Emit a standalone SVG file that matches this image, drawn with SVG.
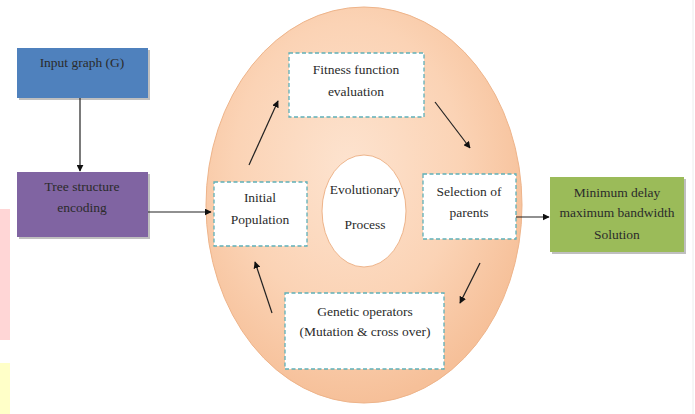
<svg xmlns="http://www.w3.org/2000/svg" width="695" height="414" viewBox="0 0 695 414">
<defs>
<radialGradient id="ring" cx="0.45" cy="0.4" r="0.6">
<stop offset="0" stop-color="#fde3cf"/>
<stop offset="0.6" stop-color="#fbd3b5"/>
<stop offset="1" stop-color="#f6c099"/>
</radialGradient>
<marker id="ah" viewBox="0 0 10 10" refX="9" refY="5" markerWidth="7" markerHeight="7" orient="auto" markerUnits="userSpaceOnUse">
<path d="M0,0 L10,5 L0,10 z" fill="#111"/>
</marker>
</defs>
<style>
text{font-size:13.5px;fill:#2b2b2b;text-anchor:middle}
.shadow{fill:#bfbfbf}
.dash{fill:#fff;stroke:#5fb0b8;stroke-width:1.3;stroke-dasharray:4 2.5}
.conn{stroke:#222;stroke-width:1.2;fill:none;marker-end:url(#ah)}
</style>
<rect width="695" height="414" fill="#fff"/>
<rect x="0" y="209" width="10" height="131" fill="#ffd6d6"/>
<rect x="0" y="363" width="10" height="51" fill="#ffffc8"/>
<line x1="693" y1="0" x2="693" y2="414" stroke="#ececec" stroke-width="1"/>

<g id="evolution-ring">
<ellipse cx="364" cy="205" rx="158" ry="198" fill="url(#ring)" stroke="#eeb48a" stroke-width="1"/>
</g>

<g font-family="Liberation Serif, DejaVu Serif, serif">
<g id="input-graph">
<rect class="shadow" x="19" y="50" width="131" height="50"/>
<rect x="17" y="48" width="131" height="50" fill="#4f81bd"/>
<text x="82" y="67">Input graph (G)</text>
</g>

<g id="tree-encoding">
<rect class="shadow" x="19" y="174" width="131" height="65"/>
<rect x="17" y="172" width="131" height="65" fill="#8064a2"/>
<text x="82" y="191">Tree structure</text>
<text x="82" y="212">encoding</text>
</g>

<g id="evolutionary-process">
<ellipse cx="364" cy="211" rx="42" ry="56" fill="#fff" stroke="#eeb48a" stroke-width="1"/>
<text x="365" y="194">Evolutionary</text>
<text x="365" y="229">Process</text>
</g>

<g id="fitness">
<rect class="dash" x="289" y="53" width="135" height="64"/>
<text x="356" y="74">Fitness function</text>
<text x="356" y="96">evaluation</text>
</g>

<g id="initial-population">
<rect class="dash" x="214" y="182" width="93" height="64"/>
<text x="260" y="202">Initial</text>
<text x="260" y="224">Population</text>
</g>

<g id="selection">
<rect class="dash" x="423" y="174" width="93" height="65"/>
<text x="469" y="196">Selection of</text>
<text x="469" y="217">parents</text>
</g>

<g id="genetic-operators">
<rect class="dash" x="285" y="293" width="159" height="76"/>
<text x="365" y="316">Genetic operators</text>
<text x="365" y="336">(Mutation &amp; cross over)</text>
</g>

<g id="solution">
<rect class="shadow" x="552" y="179" width="134" height="75"/>
<rect x="550" y="177" width="134" height="75" fill="#9bbb59"/>
<text x="617" y="197">Minimum delay</text>
<text x="617" y="217">maximum bandwidth</text>
<text x="617" y="239">Solution</text>
</g>
</g>

<g id="connectors">
<line class="conn" x1="80" y1="98" x2="80" y2="171"/>
<line class="conn" x1="148" y1="212" x2="211" y2="212"/>
<line class="conn" x1="249" y1="165" x2="278" y2="101"/>
<line class="conn" x1="435" y1="102" x2="470" y2="148"/>
<line class="conn" x1="480" y1="263" x2="460" y2="303"/>
<line class="conn" x1="272" y1="313" x2="255" y2="262"/>
<line class="conn" x1="516" y1="217" x2="549" y2="217"/>
</g>
</svg>
